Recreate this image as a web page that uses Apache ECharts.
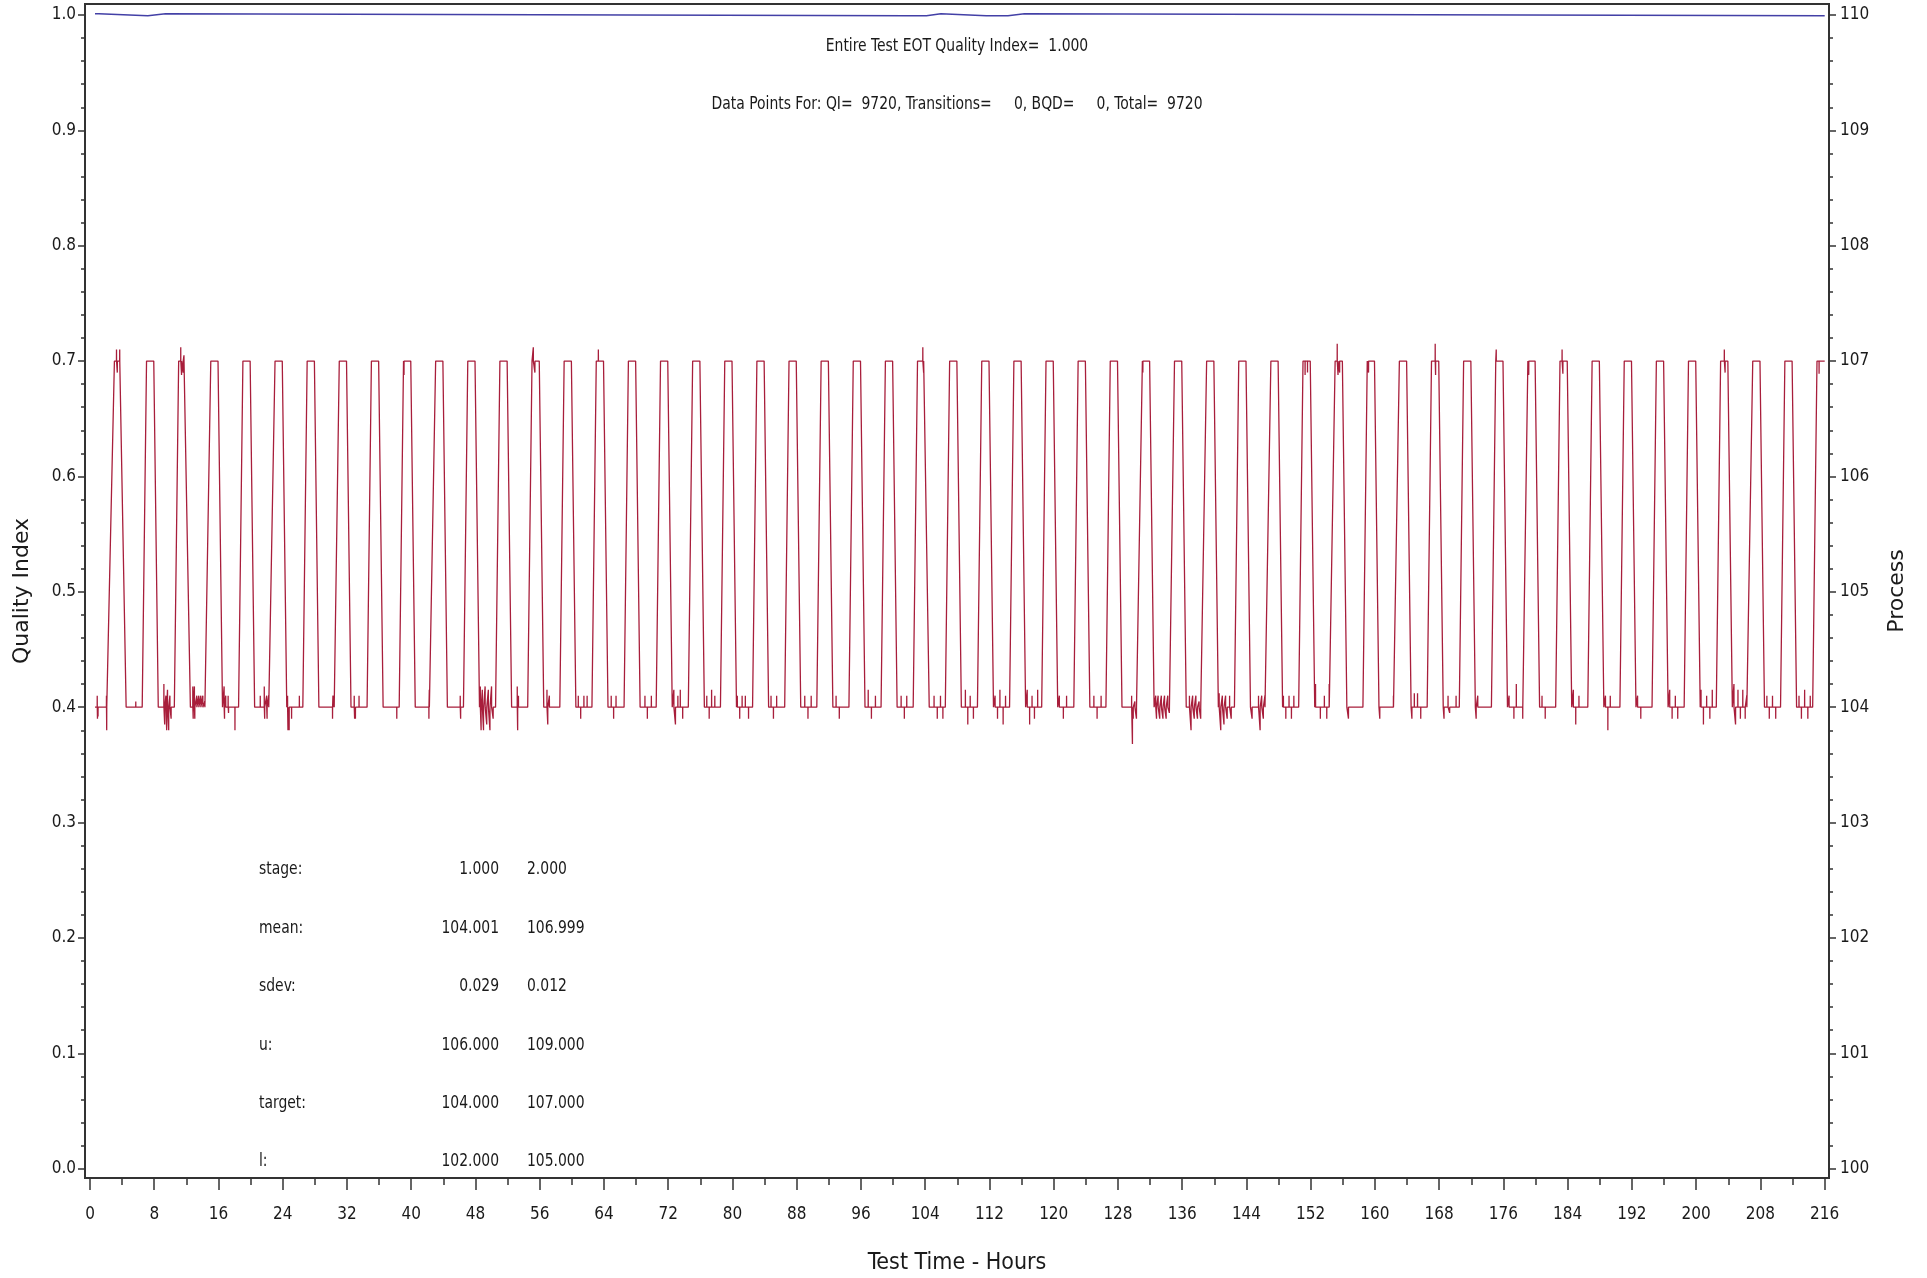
<!DOCTYPE html>
<html>
<head>
<meta charset="utf-8">
<script src="https://cdn.jsdelivr.net/npm/echarts@6/dist/echarts.min.js"></script>
<style>html,body{margin:0;padding:0;background:#fff}#chart{width:1927px;height:1278px}</style>
</head>
<body>
<div id="chart"></div>
<script>
// ---------- tick labels ----------
const xMajorTicks = [0,8,16,24,32,40,48,56,64,72,80,88,96,104,112,120,128,136,144,152,160,168,176,184,192,200,208,216];
const xMinorTicks = [4,12,20,28,36,44,52,60,68,76,84,92,100,108,116,124,132,140,148,156,164,172,180,188,196,204,212];
const qiTicks = [0,0.1,0.2,0.3,0.4,0.5,0.6,0.7,0.8,0.9,1.0];
const qiMinorTicks = [0.02,0.04,0.06,0.08,0.12,0.14,0.16,0.18,0.22,0.24,0.26,0.28,0.32,0.34,0.36,0.38,0.42,0.44,0.46,0.48,0.52,0.54,0.56,0.58,0.62,0.64,0.66,0.68,0.72,0.74,0.76,0.78,0.82,0.84,0.86,0.88,0.92,0.94,0.96,0.98];
const processTicks = [100,101,102,103,104,105,106,107,108,109,110];
const processMinorTicks = [100.2,100.4,100.6,100.8,101.2,101.4,101.6,101.8,102.2,102.4,102.6,102.8,103.2,103.4,103.6,103.8,104.2,104.4,104.6,104.8,105.2,105.4,105.6,105.8,106.2,106.4,106.6,106.8,107.2,107.4,107.6,107.8,108.2,108.4,108.6,108.8,109.2,109.4,109.6,109.8];

// ---------- Quality Index series (blue) ----------
const qiTime  = [0.62, 1.10, 1.20, 7.20, 7.30, 9.40, 9.50, 101.85, 102.05, 102.25, 104.15, 104.30, 105.95, 106.10, 111.60, 111.70, 111.80, 114.30, 114.45, 116.35, 116.50, 216.00];
const qiValue = [1.001, 1.001, 0.9993, 0.9993, 1.001, 1.001, 0.9993, 0.9993, 1.001, 0.9993, 0.9993, 1.001, 1.001, 0.9993, 0.9993, 1.0003, 0.9993, 0.9993, 1.001, 1.001, 0.9993, 0.9993];

// ---------- Process series (red): cycle corners (hours) ----------
const processStart = 0.62;
const lowLevel = 104;
const highLevel = 107;
const riseStart = [2.15,6.5,10.5,14.5,18.5,22.5,26.5,30.5,34.5,38.5,42.5,46.5,50.5,54.5,58.5,62.5,66.5,70.5,74.5,78.5,82.5,86.5,90.5,94.5,98.5,102.5,106.5,110.5,114.5,118.5,122.5,126.5,130.5,134.5,138.5,142.5,146.5,150.5,154.5,158.5,162.5,166.5,170.5,174.5,178.5,182.5,186.5,190.5,194.5,198.5,202.5,206.5,210.5,214.5];
const topStart = [3.04,7.04,11.04,15.04,19.04,23.04,27.04,31.04,35.04,39.04,43.04,47.04,51.04,55.04,59.04,63.04,67.04,71.04,75.04,79.04,83.04,87.04,91.04,95.04,99.04,103.04,107.04,111.04,115.04,119.04,123.04,127.04,131.04,135.04,139.04,143.04,147.04,151.04,155.04,159.04,163.04,167.04,171.04,175.04,179.04,183.04,187.04,191.04,195.04,199.04,203.04,207.04,211.04,215.04];
const topEnd = [3.94,7.94,11.94,15.94,19.94,23.94,27.94,31.94,35.94,39.94,43.94,47.94,51.94,55.94,59.94,63.94,67.94,71.94,75.94,79.94,83.94,87.94,91.94,95.94,99.94,103.94,107.94,111.94,115.94,119.94,123.94,127.94,131.94,135.94,139.94,143.94,147.94,151.94,155.94,159.94,163.94,167.94,171.94,175.94,179.94,183.94,187.94,191.94,195.94,199.94,203.94,207.94,211.94,216.0];
const fallEnd = [4.5,8.5,12.5,16.5,20.5,24.5,28.5,32.5,36.5,40.5,44.5,48.5,52.5,56.5,60.5,64.5,68.5,72.5,76.5,80.5,84.5,88.5,92.5,96.5,100.5,104.5,108.5,112.5,116.5,120.5,124.5,128.5,132.5,136.5,140.5,144.5,148.5,152.5,156.5,160.5,164.5,168.5,172.5,176.5,180.5,184.5,188.5,192.5,196.5,200.5,204.5,208.5,212.5];

// spikes on the low plateau [hour, value]
const lowSpikes = [
 [0.9,104.1],[0.93,103.9],[1.0,103.92],[2.05,104.1],[2.08,103.8],
 [5.7,104.05],
 [9.2,104.2],[9.3,103.85],[9.45,104.1],[9.55,103.8],[9.65,104.15],[9.8,103.8],[9.95,104.1],[10.1,103.9],
 [12.8,104.18],[12.85,103.9],[13.0,104.18],[13.05,103.9],[13.3,104.1],[13.55,104.1],[13.8,104.1],[14.05,104.1],[14.3,104.05],
 [16.7,104.18],[16.75,103.9],[16.9,104.1],[17.2,104.1],[17.25,103.95],[18.05,103.8],
 [21.2,104.1],[21.7,104.18],[21.75,103.9],[22.0,104.1],[22.05,103.9],[22.25,104.1],
 [24.6,104.1],[24.65,103.8],[24.8,103.8],[25.1,103.9],[26.07,104.1],
 [30.2,103.9],[30.25,104.1],[30.4,104.1],
 [32.9,104.1],[32.95,103.9],[33.05,103.9],[33.5,104.1],
 [38.2,103.9],
 [42.2,103.9],[42.25,104.15],
 [46.1,104.1],[46.15,103.9],
 [48.6,104.18],[48.7,103.8],[48.85,104.15],[49.0,103.8],[49.2,104.18],[49.4,103.85],[49.6,104.15],[49.8,103.8],[50.0,104.18],[50.2,103.9],
 [53.2,104.18],[53.25,103.8],[53.35,104.1],
 [56.9,104.15],[57.0,103.85],[57.2,104.1],
 [60.8,104.1],[61.1,103.9],[61.5,104.1],[61.9,104.1],
 [64.9,104.1],[65.2,103.9],[65.5,104.1],
 [69.1,104.1],[69.4,103.9],[69.9,104.1],
 [72.7,104.15],[72.9,103.85],[73.2,104.1],[73.5,104.15],[73.8,103.9],
 [76.8,104.1],[77.1,103.9],[77.4,104.15],[77.8,104.1],
 [80.6,104.1],[80.9,103.9],[81.2,104.1],[81.6,104.1],[82.0,103.9],
 [84.8,104.1],[85.1,103.9],[85.5,104.1],
 [89.0,104.1],[89.4,103.9],[89.8,104.1],
 [92.9,104.1],[93.3,103.9],
 [96.9,104.15],[97.3,103.9],[97.8,104.1],
 [101.0,104.1],[101.4,103.9],[101.7,104.1],
 [105.1,104.1],[105.5,103.9],[105.9,104.1],[106.2,103.9],
 [109.0,104.15],[109.3,103.85],[109.6,104.1],[110.0,103.9],
 [112.7,104.1],[113.0,103.9],[113.3,104.15],[113.7,103.85],[114.0,104.1],
 [116.7,104.15],[117.0,103.85],[117.3,104.1],[117.6,103.9],[118.0,104.15],
 [120.7,104.1],[121.2,103.9],[121.6,104.1],
 [125.0,104.1],[125.4,103.9],[125.9,104.1],
 [129.7,104.1],[129.8,103.68],[129.9,103.9],[130.1,104.05],[130.3,103.9],
 [132.7,104.1],[132.8,103.9],[133.0,104.1],[133.2,103.9],[133.4,104.1],[133.6,103.9],[133.8,104.1],[134.0,103.9],[134.2,104.1],[134.4,103.95],
 [136.9,104.1],[137.1,103.8],[137.3,104.1],[137.5,103.9],[137.7,104.1],[137.9,103.9],[138.1,104.05],[138.3,103.9],
 [140.6,104.12],[140.8,103.8],[141.0,104.1],[141.2,103.85],[141.4,104.1],[141.6,103.9],[141.9,104.1],[142.1,103.9],
 [144.7,103.9],[145.5,104.1],[145.7,103.8],[145.9,104.1],[146.1,103.9],[146.3,104.1],
 [148.6,104.1],[148.9,103.9],[149.3,104.1],[149.6,103.9],[149.9,104.1],
 [152.6,104.2],[153.2,103.9],[153.7,104.1],[154.0,103.9],[154.3,104.2],
 [156.7,103.9],
 [160.6,103.9],[162.3,104.1],
 [164.6,103.9],[164.9,104.12],[165.3,104.12],[165.7,103.9],
 [168.6,103.9],[169.1,104.1],[169.3,103.95],[170.1,104.1],
 [172.6,103.9],[172.8,104.1],
 [176.7,104.1],[177.3,103.9],[177.6,104.2],[178.4,103.9],
 [180.8,104.1],[181.2,103.9],
 [184.7,104.15],[185.0,103.85],[185.4,104.1],
 [188.7,104.1],[189.0,103.8],[189.3,104.1],
 [192.7,104.1],[193.1,103.9],
 [196.7,104.15],[197.0,103.9],[197.4,104.1],[197.7,103.9],
 [200.6,104.15],[200.9,103.85],[201.3,104.1],[201.7,103.9],[202.0,104.15],
 [204.7,104.2],[204.9,103.85],[205.2,104.15],[205.5,103.9],[205.8,104.15],[206.1,103.9],[206.3,104.1],
 [208.8,104.1],[209.1,103.9],[209.5,104.1],[209.9,103.9],
 [212.8,104.1],[213.1,103.9],[213.5,104.15],[213.9,103.9],[214.2,104.1]
];
// spikes on the high plateau [hour, value]
const highSpikes = [
 [3.3,107.1],[3.4,106.9],[3.7,107.1],
 [11.3,107.12],[11.4,106.88],[11.6,106.9],[11.7,107.05],
 [39.1,106.88],
 [55.2,107.12],[55.4,106.9],
 [63.3,107.1],
 [103.7,107.12],[103.8,106.9],
 [131.1,106.9],
 [151.3,106.88],[151.6,106.9],
 [155.3,107.15],[155.4,106.88],[155.6,106.9],
 [159.2,106.9],
 [167.5,107.15],[167.55,106.88],
 [175.1,107.1],
 [179.15,106.88],
 [183.3,107.1],[183.4,106.89],
 [203.5,107.1],[203.6,106.9],
 [215.3,106.89]
];

// stats table text
const statNames = ['stage:', 'mean:', 'sdev:', 'u:', 'target:', 'l:'];
const statStage1 = ['1.000', '104.001', '0.029', '106.000', '104.000', '102.000'];
const statStage2 = ['2.000', '106.999', '0.012', '109.000', '107.000', '105.000'];

// ---------- build series data ----------
const qiData = qiTime.map((t, i) => [t, qiValue[i]]);

const procVerts = [[processStart, lowLevel]];
for (let k = 0; k < riseStart.length; k++) {
  procVerts.push([riseStart[k], lowLevel], [topStart[k], highLevel], [topEnd[k], highLevel]);
  if (k < fallEnd.length) procVerts.push([fallEnd[k], lowLevel]);
}
const hw = 0.006;
lowSpikes.forEach(([t, v]) => procVerts.push([t - hw, lowLevel], [t, v], [t + hw, lowLevel]));
highSpikes.forEach(([t, v]) => procVerts.push([t - hw, highLevel], [t, v], [t + hw, highLevel]));
procVerts.sort((a, b) => a[0] - b[0]);

// ---------- chart ----------
const FONT = "'Liberation Sans Narrow','DejaVu Sans Condensed','Liberation Sans',sans-serif";
const NAMEFONT = "'DejaVu Sans','Liberation Sans',sans-serif";
const AX = '#333333';
const TXT = '#1a1a1a';
const SX = 0.86; // horizontal squeeze to mimic the narrow plotting font

const xMin = -0.6226, xMax = 216.535;
const qMin = -0.0081, qMax = 1.0095;
const pMin = 99.919, pMax = 110.095;

const chart = echarts.init(document.getElementById('chart'), null, {renderer: 'canvas'});

function txt(x, y, s, align) {
  return {type: 'text', x: x, y: y, scaleX: SX, style: {text: s, fontSize: 18, fontFamily: FONT, fill: TXT, align: align, verticalAlign: 'middle'}};
}
const graphics = [
  txt(957, 46, 'Entire Test EOT Quality Index=  1.000', 'center'),
  txt(957, 104, 'Data Points For: QI=  9720, Transitions=     0, BQD=     0, Total=  9720', 'center')
];
const rowY = [869, 928, 986, 1045, 1103, 1161];
statNames.forEach((n, i) => {
  graphics.push(txt(259, rowY[i], n, 'left'));
  graphics.push(txt(499, rowY[i], statStage1[i], 'right'));
  graphics.push(txt(527, rowY[i], statStage2[i], 'left'));
});

const option = {
  backgroundColor: '#ffffff',
  animation: false,
  grid: {left: 85, right: 98, top: 4, bottom: 100, show: true, borderColor: AX, borderWidth: 2, backgroundColor: 'transparent', containLabel: false, outerBoundsMode: 'none'},
  xAxis: [
    {
      type: 'value', position: 'bottom', min: xMin, max: xMax,
      name: 'Test Time - Hours', nameLocation: 'middle', nameGap: 74,
      nameTextStyle: {fontSize: 23, fontFamily: FONT, color: TXT},
      axisLine: {show: true, onZero: false, lineStyle: {color: AX, width: 2}},
      axisTick: {show: true, customValues: xMajorTicks, length: 12, inside: false, lineStyle: {color: AX, width: 1.5}},
      axisLabel: {show: true, customValues: xMajorTicks, margin: 28, fontSize: 17, fontFamily: FONT, color: TXT},
      splitLine: {show: false}
    },
    {
      type: 'value', position: 'bottom', min: xMin, max: xMax,
      axisLine: {show: false, onZero: false},
      axisTick: {show: true, customValues: xMinorTicks, length: 7, inside: false, lineStyle: {color: AX, width: 1.5}},
      axisLabel: {show: false},
      splitLine: {show: false}
    }
  ],
  yAxis: [
    {
      type: 'value', position: 'left', min: qMin, max: qMax,
      name: 'Quality Index', nameLocation: 'middle', nameGap: 52,
      nameTextStyle: {fontSize: 22, fontFamily: NAMEFONT, color: TXT},
      axisLine: {show: true, onZero: false, lineStyle: {color: AX, width: 2}},
      axisTick: {show: true, customValues: qiTicks, length: 7, inside: false, lineStyle: {color: AX, width: 1.5}},
      axisLabel: {show: true, customValues: qiTicks, margin: 9, fontSize: 17, fontFamily: FONT, color: TXT, formatter: v => Number(v).toFixed(1)},
      splitLine: {show: false}
    },
    {
      type: 'value', position: 'left', min: qMin, max: qMax,
      axisLine: {show: false, onZero: false},
      axisTick: {show: true, customValues: qiMinorTicks, length: 4, inside: false, lineStyle: {color: AX, width: 1.5}},
      axisLabel: {show: false},
      splitLine: {show: false}
    },
    {
      type: 'value', position: 'right', min: pMin, max: pMax,
      name: 'Process', nameLocation: 'middle', nameGap: 57,
      nameTextStyle: {fontSize: 22, fontFamily: NAMEFONT, color: TXT},
      axisLine: {show: true, onZero: false, lineStyle: {color: AX, width: 2}},
      axisTick: {show: true, customValues: processTicks, length: 7, inside: false, lineStyle: {color: AX, width: 1.5}},
      axisLabel: {show: true, customValues: processTicks, margin: 11, fontSize: 17, fontFamily: FONT, color: TXT, formatter: v => String(Math.round(v))},
      splitLine: {show: false}
    },
    {
      type: 'value', position: 'right', min: pMin, max: pMax,
      axisLine: {show: false, onZero: false},
      axisTick: {show: true, customValues: processMinorTicks, length: 4, inside: false, lineStyle: {color: AX, width: 1.5}},
      axisLabel: {show: false},
      splitLine: {show: false}
    }
  ],
  series: [
    {
      name: 'Process', type: 'line', xAxisIndex: 0, yAxisIndex: 2,
      data: procVerts, showSymbol: false, symbol: 'none',
      lineStyle: {color: '#a81e3b', width: 1.3}, emphasis: {disabled: true}, z: 2
    },
    {
      name: 'Quality Index', type: 'line', xAxisIndex: 0, yAxisIndex: 0,
      data: qiData, showSymbol: false, symbol: 'none',
      lineStyle: {color: '#4340a6', width: 1.6}, emphasis: {disabled: true}, z: 3
    }
  ],
  graphic: graphics
};
chart.setOption(option);
</script>
</body>
</html>
